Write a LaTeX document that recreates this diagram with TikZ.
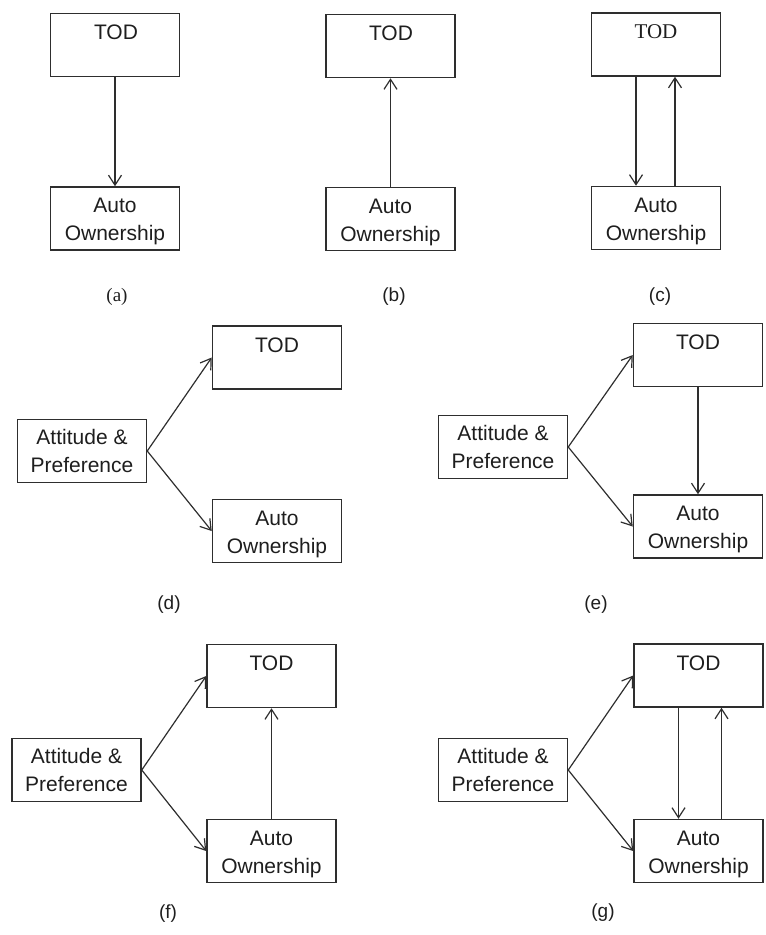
\documentclass[tikz,border=0pt]{standalone}
\usepackage{fontspec}
\setmainfont{Liberation Sans}
\newfontfamily\serifft{Liberation Serif}
\usetikzlibrary{arrows.meta}
\definecolor{ln}{HTML}{2E2E2E}
\definecolor{tx}{HTML}{1E1E1E}
\begin{document}
\begin{tikzpicture}[x=1pt,y=-1pt,
  box/.style={draw=ln,line width=1.5pt,minimum width=129pt,minimum height=63pt,inner sep=0pt,align=center,text=tx,font=\fontsize{21}{28}\selectfont},
  ttl/.style={text=tx,font=\fontsize{21}{24}\selectfont,inner sep=0pt},
  sublbl/.style={text=tx,font=\fontsize{19}{22}\selectfont,inner sep=0pt},
  arr/.style={draw=ln,line width=1.2pt,-{Straight Barb[length=10pt,width=13pt,line width=1.2pt]}},
  tx2/.style={yshift=-3pt}]
\useasboundingbox (0,0) rectangle (766,935);
% (a)
\node[box] (aT) at (115,45) {};
\node[ttl] (aTt) at (116,32) {TOD};
\node[box] (aA) at (115,218.5) {};
\node[box,draw=none,tx2] (aAt) at (aA) {Auto\\Ownership};
\draw[arr] (aT.south) -- (aA.north);
\node[sublbl] (al) at (117,297) {\serifft (a)};
% (b)
\node[box] (bT) at (390.5,46) {};
\node[ttl] (bTt) at (391,33) {TOD};
\node[box] (bA) at (390.5,219) {};
\node[box,draw=none,tx2] (bAt) at (bA) {Auto\\Ownership};
\draw[arr] (bA.north) -- (bT.south);
\node[sublbl] (bl) at (394,297) {(b)};
% (c)
\node[box] (cT) at (656,44.5) {};
\node[ttl] (cTt) at (656,32) {\serifft TOD};
\node[box] (cA) at (656,218) {};
\node[box,draw=none,tx2] (cAt) at (cA) {Auto\\Ownership};
\draw[arr] ([xshift=-20pt]cT.south) -- ([xshift=-20pt]cA.north);
\draw[arr] ([xshift=19pt]cA.north) -- ([xshift=19pt]cT.south);
\node[sublbl] (cl) at (660,297) {(c)};
% (d)
\node[box] (dT) at (277,357.5) {};
\node[ttl] (dTt) at (277,345) {TOD};
\node[box] (dP) at (82,451) {};
\node[box,draw=none] (dPt) at (dP) {Attitude \&\\Preference};
\node[box] (dA) at (277,531) {};
\node[box,draw=none,tx2] (dAt) at (dA) {Auto\\Ownership};
\draw[arr] (dP.east) -- (dT.west);
\draw[arr] (dP.east) -- (dA.west);
\node[sublbl] (dl) at (169,605) {(d)};
% (e)
\node[box] (eT) at (698,355) {};
\node[ttl] (eTt) at (698,342) {TOD};
\node[box] (eP) at (503,447) {};
\node[box,draw=none] (ePt) at (eP) {Attitude \&\\Preference};
\node[box] (eA) at (698,526.5) {};
\node[box,draw=none,tx2] (eAt) at (eA) {Auto\\Ownership};
\draw[arr] (eP.east) -- (eT.west);
\draw[arr] (eP.east) -- (eA.west);
\draw[arr] (eT.south) -- (eA.north);
\node[sublbl] (el) at (596,605) {(e)};
% (f)
\node[box] (fT) at (271.5,676) {};
\node[ttl] (fTt) at (271.5,663) {TOD};
\node[box] (fP) at (76.5,770) {};
\node[box,draw=none] (fPt) at (fP) {Attitude \&\\Preference};
\node[box] (fA) at (271.5,851) {};
\node[box,draw=none,tx2] (fAt) at (fA) {Auto\\Ownership};
\draw[arr] (fP.east) -- (fT.west);
\draw[arr] (fP.east) -- (fA.west);
\draw[arr] (fA.north) -- (fT.south);
\node[sublbl] (fl) at (168,914) {(f)};
% (g)
\node[box] (gT) at (698.5,675.5) {};
\node[ttl] (gTt) at (698.5,663) {TOD};
\node[box] (gP) at (503,770) {};
\node[box,draw=none] (gPt) at (gP) {Attitude \&\\Preference};
\node[box] (gA) at (698.5,851) {};
\node[box,draw=none,tx2] (gAt) at (gA) {Auto\\Ownership};
\draw[arr] (gP.east) -- (gT.west);
\draw[arr] (gP.east) -- (gA.west);
\draw[arr] ([xshift=-20pt]gT.south) -- ([xshift=-20pt]gA.north);
\draw[arr] ([xshift=23pt]gA.north) -- ([xshift=23pt]gT.south);
\node[sublbl] (gl) at (603,913) {(g)};
\end{tikzpicture}
\end{document}
